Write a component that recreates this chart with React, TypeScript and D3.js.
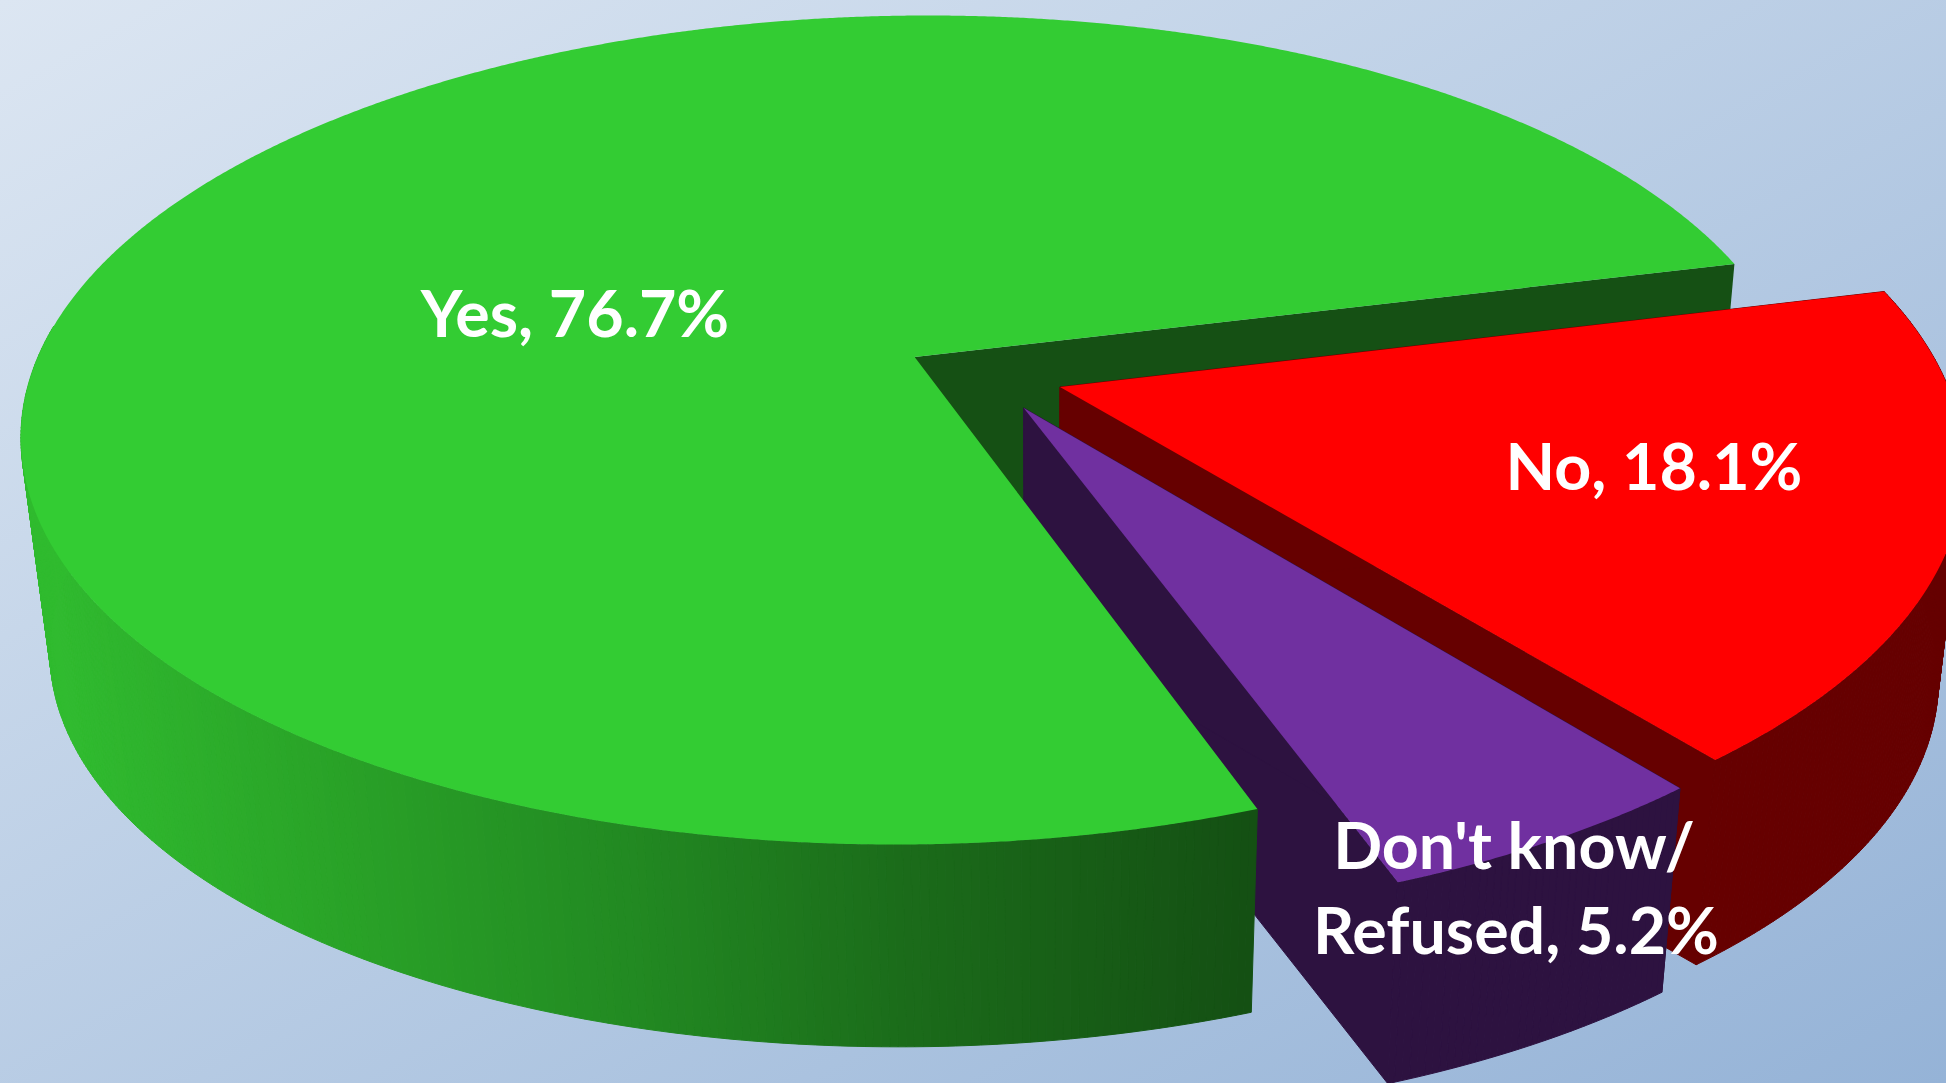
import React from 'react';
import * as d3 from 'd3';

const categories = ['Yes', 'No', "Don't know/Refused"];
const shares = [76.7, 18.1, 5.2];

const width = 1946;
const height = 1083;

// top face ellipse of the pie, fitted on the picture
const ellipseCx = 911.7;
const ellipseCy = 430;
const ellipseRx = 890.6;
const ellipseRy = 414.5;
const ellipseSkew = -16.7;
// perspective: where the disk centre lands on the ellipse
const tilt = -0.176;
// the walls converge on a far point below the pie
const vanishX = 1043;
const vanishY = 7969;
const depth = 0.0284;

const firstSliceStart = (159.9 * Math.PI) / 180;

// slice offsets in disk units
const explode = [
  [0, 0],
  [0.165, 0.0736],
  [0.124, 0.124]
];
const topColors = ['#33cc33', '#ff0000', '#7030a0'];
const wallColors = ['#155014', '#660000', '#2d1240'];

const greenShade = d3.scaleLinear<string>()
  .domain([40, 300, 620, 900, 1250])
  .range(['#30bb2f', '#2aa528', '#228a22', '#1b6c1a', '#145013'])
  .clamp(true);

const xScale = d3.scaleLinear().domain([-1, 1]).range([ellipseCx - ellipseRx, ellipseCx + ellipseRx]);
const yScale = d3.scaleLinear().domain([-1, 1]).range([ellipseCy - ellipseRy, ellipseCy + ellipseRy]);

type Pt = [number, number];

const project = (x: number, y: number): Pt => {
  const den = 1 + tilt * y;
  const u = (x * Math.sqrt(1 - tilt * tilt)) / den;
  const v = (y + tilt) / den;
  return [xScale(u) + ellipseSkew * v, yScale(v)];
};

const drop = (p: Pt): Pt => [
  p[0] + (vanishX - p[0]) * depth,
  p[1] + (vanishY - p[1]) * depth
];

const line = d3.line<Pt>();

const slices = d3.pie<number>()
  .sort(null)
  .startAngle(firstSliceStart)
  .endAngle(firstSliceStart + 2 * Math.PI)(shares);

const rim = (i: number, a: number): Pt => project(
  Math.sin(a) + explode[i][0],
  -Math.cos(a) + explode[i][1]
);
const hub = (i: number): Pt => project(explode[i][0], explode[i][1]);

const topPath = (i: number) => {
  const {startAngle, endAngle} = slices[i];
  const as = [...d3.range(startAngle, endAngle, 0.004), endAngle];
  return line([hub(i), ...as.map(a => rim(i, a))]) + 'Z';
};

const sideWall = (i: number, a: number) => {
  const p = hub(i);
  const q = rim(i, a);
  return line([p, q, drop(q), drop(p)]) + 'Z';
};

const outerStrips = (i: number, from: number, to: number) => {
  const as = [...d3.range(from, to, 0.008), to];
  return d3.pairs(as).map(([a, b]) => {
    const p = rim(i, a);
    const q = rim(i, b);
    return {d: line([p, q, drop(q), drop(p)]) + 'Z', x: (p[0] + q[0]) / 2};
  });
};

const labelStyle: React.CSSProperties = {
  fontFamily: 'Lato, sans-serif',
  fontWeight: 700,
  fontSize: 64.5,
  fill: '#ffffff',
  textAnchor: 'middle'
};

function Slice({i}: {i: number}) {
  const s = slices[i];
  const color = wallColors[i];
  return (
    <g stroke={color} strokeWidth={1} fill={color}>
      <path d={sideWall(i, s.endAngle)}/>
      <path d={sideWall(i, s.startAngle)}/>
      {outerStrips(i, s.startAngle, s.endAngle).map((strip, k) => (
        <path key={k} d={strip.d}/>
      ))}
      <path d={topPath(i)} fill={topColors[i]} stroke="none"/>
    </g>
  );
}

function App() {
  const green = slices[0];
  // only the front of the green rim shows
  const greenStrips = outerStrips(0, green.startAngle, green.startAngle + 2.0);

  return (
    <svg
      width={width}
      height={height}
      viewBox={`0 0 ${width} ${height}`}
      style={{position: 'absolute', left: 0, top: 0}}
      role="img"
      aria-label={categories.join(', ')}
    >
      <defs>
        <linearGradient id="bg" x1="0" y1="0" x2="1" y2="1">
          <stop offset="0" stopColor="#dce6f2"/>
          <stop offset="1" stopColor="#95b3d7"/>
        </linearGradient>
      </defs>
      <rect width={width} height={height} fill="url(#bg)"/>

      {/* wall of the notch, behind everything else */}
      <path d={sideWall(0, green.endAngle)} fill={wallColors[0]}/>

      <Slice i={1}/>
      <Slice i={2}/>

      {greenStrips.map((strip, k) => (
        <path key={k} d={strip.d} fill={greenShade(strip.x)} stroke={greenShade(strip.x)} strokeWidth={1}/>
      ))}
      <path d={topPath(0)} fill={topColors[0]}/>

      <text x={575} y={337} style={labelStyle}>{`Yes, ${shares[0]}%`}</text>
      <text x={1654} y={490} style={labelStyle}>{`No, ${shares[1]}%`}</text>
      <text x={1514} y={869} style={labelStyle}>Don't know/</text>
      <text x={1516} y={954} style={labelStyle}>{`Refused, ${shares[2]}%`}</text>
    </svg>
  );
}

export default App;
